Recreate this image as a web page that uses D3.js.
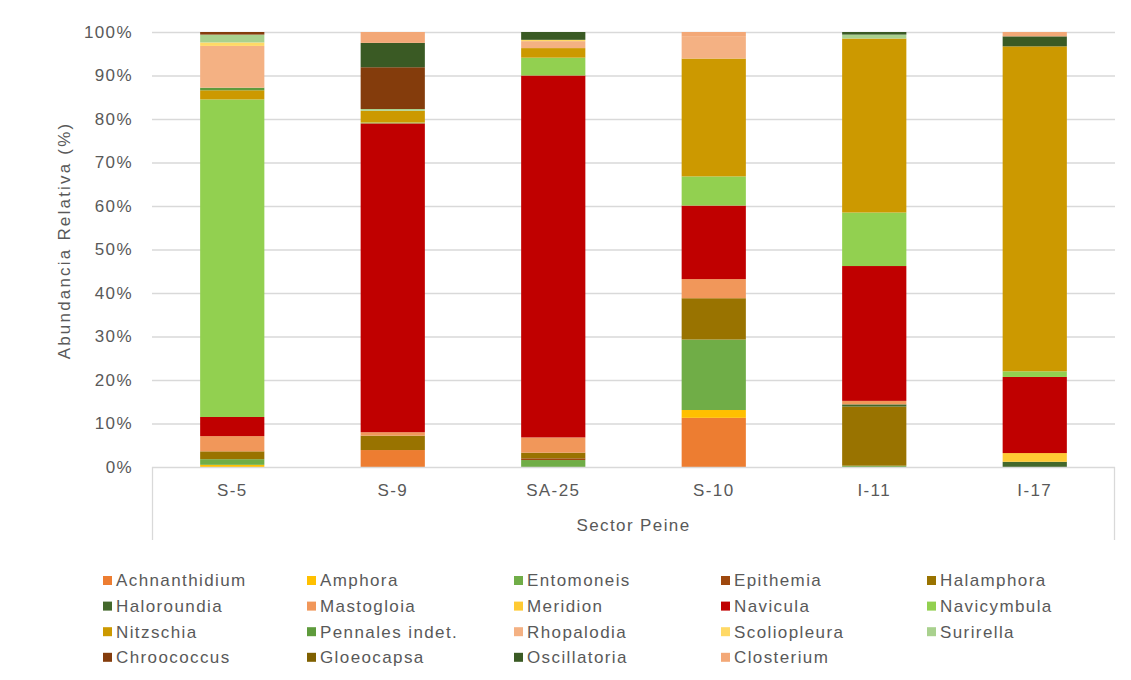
<!DOCTYPE html>
<html>
<head>
<meta charset="utf-8">
<script src="https://cdn.jsdelivr.net/npm/d3@7"></script>
<style>
  html, body { margin: 0; padding: 0; background: #ffffff; }
  svg { display: block; font-family: "Liberation Sans", Arial, sans-serif; }
</style>
</head>
<body>
<svg id="chart" width="1131" height="680"></svg>
<script>
// Sampling sites (Sector Peine)
const sites = ["S-5", "S-9", "SA-25", "S-10", "I-11", "I-17"];

// Taxa, in stacking order (bottom to top) and legend order
const taxa = [
  "Achnanthidium", "Amphora", "Entomoneis", "Epithemia", "Halamphora",
  "Haloroundia", "Mastogloia", "Meridion", "Navicula", "Navicymbula",
  "Nitzschia", "Pennales indet.", "Rhopalodia", "Scoliopleura", "Surirella",
  "Chroococcus", "Gloeocapsa", "Oscillatoria", "Closterium"
];

const taxaColors = [
  "#ED7D31", "#FFC000", "#70AD47", "#9E480E", "#997300",
  "#43682B", "#F1975A", "#FFCA33", "#C00000", "#92D050",
  "#CC9900", "#5E9B3C", "#F4B183", "#FFD966", "#A9D18E",
  "#843C0C", "#7F6000", "#3A5A24", "#F3A877"
];

// Relative abundance (%) per site, one value per taxon in the order above
const valuesS5   = [0, 0.5, 1.3, 0, 1.8, 0, 3.5, 0, 4.4, 73.0, 2.1, 0.6, 9.6, 0.8, 1.8, 0.6, 0, 0, 0];
const valuesS9   = [3.9, 0, 0, 0, 3.3, 0, 0.8, 0, 71.0, 0.2, 2.7, 0, 0, 0, 0.4, 9.6, 0, 5.6, 2.5];
const valuesSA25 = [0, 0, 1.6, 0.4, 1.3, 0, 3.5, 0, 83.2, 4.1, 2.2, 0, 1.6, 0.3, 0, 0, 0, 1.8, 0];
const valuesS10  = [11.3, 1.8, 16.2, 0, 9.5, 0, 4.4, 0, 16.9, 6.7, 27.1, 0, 5.0, 0, 0, 0, 0, 0, 1.1];
const valuesI11  = [0, 0, 0.3, 0, 13.6, 0.5, 0.8, 0, 31.0, 12.3, 40.0, 0, 0, 0, 0.9, 0, 0, 0.6, 0];
const valuesI17  = [0, 0, 0, 0, 0, 1.2, 0, 2.0, 17.5, 1.3, 74.7, 0, 0, 0, 0, 0, 0, 2.3, 1.0];

const siteValues = [valuesS5, valuesS9, valuesSA25, valuesS10, valuesI11, valuesI17];

const yTicks = [0, 10, 20, 30, 40, 50, 60, 70, 80, 90, 100];

const axisTitle = "Abundancia Relativa  (%)";
const groupTitle = "Sector Peine";

// Build rows for d3.stack: one object per site with a key per taxon
const rows = sites.map((s, i) => {
  const r = { site: s };
  taxa.forEach((t, j) => { r[t] = siteValues[i][j]; });
  return r;
});

const svg = d3.select("#chart");
const plot = { left: 152, right: 1115, top: 32, bottom: 467 };
const textColor = "#595959";
const gridColor = "#D9D9D9";
const fontSize = 17;
const spacing = "1.4px";

const x = d3.scaleBand().domain(sites).range([plot.left, plot.right]).paddingInner(0).paddingOuter(0);
const barWidth = x.bandwidth() / 2.5;
const y = d3.scaleLinear().domain([0, 100]).range([plot.bottom, plot.top]);

// Horizontal gridlines
svg.append("g")
  .selectAll("line")
  .data(yTicks.filter(d => d > 0))
  .join("line")
  .attr("x1", plot.left).attr("x2", plot.right)
  .attr("y1", d => y(d) + 0.5).attr("y2", d => y(d) + 0.5)
  .attr("stroke", gridColor).attr("stroke-width", 1.3);

// Y axis labels
const yAxis = d3.axisLeft(y).tickValues(yTicks).tickFormat(d => d + "%").tickSize(0).tickPadding(19);
const yg = svg.append("g").attr("transform", `translate(${plot.left},0)`).call(yAxis);
yg.select(".domain").remove();
yg.selectAll("text")
  .attr("fill", textColor)
  .attr("font-size", fontSize)
  .style("letter-spacing", spacing)
  .attr("font-family", "Liberation Sans, Arial, sans-serif");

// Stacked bars
const stack = d3.stack().keys(taxa);
const series = stack(rows);

svg.append("g")
  .selectAll("g")
  .data(series)
  .join("g")
  .attr("fill", (d, i) => taxaColors[i])
  .selectAll("rect")
  .data(d => d)
  .join("rect")
  .attr("x", d => x(d.data.site) + (x.bandwidth() - barWidth) / 2)
  .attr("width", barWidth)
  .attr("y", d => y(d[1]))
  .attr("height", d => Math.max(0, y(d[0]) - y(d[1])));

// Category axis box (baseline and outer group brackets)
const boxBottom = 540;
const box = svg.append("g").attr("stroke", gridColor).attr("stroke-width", 1.3).attr("fill", "none");
box.append("line").attr("x1", plot.left).attr("x2", plot.right).attr("y1", plot.bottom + 0.5).attr("y2", plot.bottom + 0.5);
box.append("line").attr("x1", plot.left + 0.5).attr("x2", plot.left + 0.5).attr("y1", plot.bottom).attr("y2", boxBottom);
box.append("line").attr("x1", plot.right - 0.5).attr("x2", plot.right - 0.5).attr("y1", plot.bottom).attr("y2", boxBottom);

// Category labels
const xAxis = d3.axisBottom(x).tickSize(0).tickPadding(17);
const xg = svg.append("g").attr("transform", `translate(0,${plot.bottom})`).call(xAxis);
xg.select(".domain").remove();
xg.selectAll("text")
  .attr("fill", textColor)
  .attr("font-size", fontSize)
  .style("letter-spacing", spacing)
  .attr("font-family", "Liberation Sans, Arial, sans-serif");

// Group label
svg.append("text")
  .attr("x", (plot.left + plot.right) / 2)
  .attr("y", 531)
  .attr("text-anchor", "middle")
  .attr("fill", textColor)
  .attr("font-size", fontSize)
  .style("letter-spacing", spacing)
  .text(groupTitle);

// Y axis title
svg.append("text")
  .attr("transform", `translate(70,${(plot.top + plot.bottom) / 2 - 9}) rotate(-90)`)
  .attr("text-anchor", "middle")
  .attr("fill", textColor)
  .attr("font-size", fontSize)
  .style("letter-spacing", "2.2px")
  .text(axisTitle);

// Legend: 5 columns x 4 rows, filled row by row
const legendCols = [103, 307, 514, 721, 927];
const legendRow0 = 580.5;
const legendRowStep = 25.6;
const legend = svg.append("g");
taxa.forEach((t, i) => {
  const col = i % 5, row = Math.floor(i / 5);
  const lx = legendCols[col], ly = legendRow0 + row * legendRowStep;
  legend.append("rect")
    .attr("x", lx).attr("y", ly - 4.5)
    .attr("width", 9).attr("height", 9)
    .attr("fill", taxaColors[i]);
  legend.append("text")
    .attr("x", lx + 13).attr("y", ly)
    .attr("dy", "0.35em")
    .attr("fill", textColor)
    .attr("font-size", fontSize)
    .style("letter-spacing", spacing)
    .text(t);
});
</script>
</body>
</html>
